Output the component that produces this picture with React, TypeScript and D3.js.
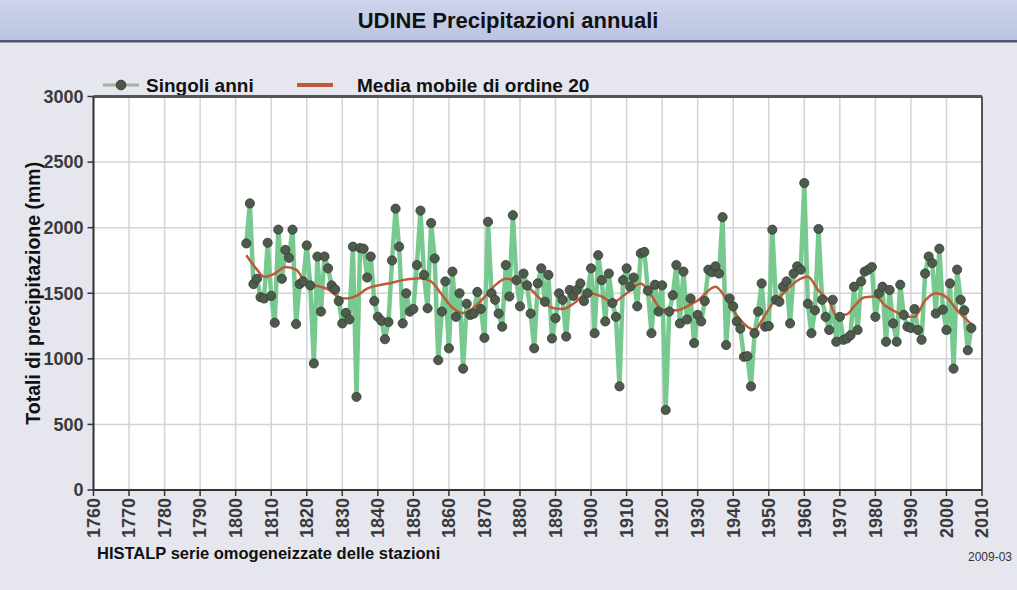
import React from "react";
import * as d3 from "d3";

const FIRST_YEAR = 1803;
const annualValues = [
  1880, 2185, 1570, 1610, 1470, 1460, 1885, 1480, 1275, 1985,
  1610, 1830, 1770, 1985, 1265, 1570, 1590, 1865, 1560, 965,
  1780, 1360, 1780, 1690, 1560, 1530, 1440, 1270, 1350, 1300,
  1855, 710, 1845, 1840, 1620, 1780, 1440, 1320, 1290, 1150,
  1280, 1750, 2145, 1855, 1270, 1500, 1360, 1380, 1715, 2130,
  1640, 1385, 2035, 1765, 990, 1360, 1590, 1080, 1665, 1320,
  1500, 925, 1420, 1335, 1345, 1510, 1380, 1160, 2045, 1500,
  1450, 1345, 1245, 1715, 1475, 2095, 1600, 1400, 1650, 1560,
  1345, 1080, 1575, 1690, 1435, 1640, 1155, 1310, 1500, 1450,
  1170, 1525, 1480, 1525, 1575, 1440, 1500, 1690, 1195, 1790,
  1600, 1285, 1650, 1425, 1320, 790, 1600, 1690, 1550, 1620,
  1400, 1805, 1815, 1520, 1195, 1565, 1360, 1560, 610, 1360,
  1485, 1715, 1270, 1665, 1300, 1460, 1120, 1335, 1285, 1440,
  1680, 1660, 1705, 1650, 2080, 1105, 1460, 1400, 1285, 1230,
  1015, 1020, 790, 1195, 1360, 1575, 1245, 1250, 1985, 1450,
  1435, 1550, 1590, 1270, 1650, 1705, 1680, 2340, 1420, 1195,
  1370, 1990, 1450, 1320, 1220, 1450, 1130, 1320, 1145, 1155,
  1180, 1550, 1220, 1590, 1665, 1680, 1700, 1320, 1500, 1550,
  1130, 1525, 1270, 1130, 1565, 1335, 1245, 1235, 1380, 1220,
  1145, 1650, 1780, 1730, 1345, 1840, 1375, 1220, 1575, 925,
  1680, 1450, 1370, 1065, 1235,
];

const maYears = [
  1803, 1806, 1808, 1811, 1814, 1817, 1820, 1823, 1826, 1829, 1831, 1834,
  1837, 1840, 1843, 1847, 1852, 1855, 1858, 1861, 1864, 1867, 1870, 1873,
  1876, 1879, 1883, 1886, 1889, 1892, 1895, 1899, 1903, 1906, 1910, 1914,
  1917, 1920, 1924, 1927, 1930, 1935, 1938, 1941, 1944, 1946, 1948, 1951,
  1954, 1958, 1961, 1964, 1967, 1969, 1972, 1974, 1977, 1980, 1983, 1986,
  1989, 1991, 1994, 1997, 2000, 2003, 2006, 2007,
];
const maValues = [
  1790, 1680, 1625, 1650, 1700, 1680, 1575, 1555, 1530, 1470, 1460, 1480,
  1535, 1560, 1575, 1600, 1615, 1590, 1490, 1390, 1350, 1390, 1470, 1560,
  1610, 1600, 1530, 1450, 1390, 1380, 1420, 1500, 1475, 1430, 1500, 1575,
  1480, 1375, 1370, 1400, 1445, 1550, 1460, 1330, 1245, 1220, 1290, 1420,
  1495, 1595, 1625, 1520, 1440, 1330, 1340, 1400, 1470, 1475, 1400, 1355,
  1320, 1320, 1445, 1500, 1470, 1370, 1290, 1265,
];

const xTicks = d3.range(1760, 2011, 10);
const yTicks = [0, 500, 1000, 1500, 2000, 2500, 3000];

const TITLE = "UDINE Precipitazioni annuali";
const LEGEND_ANNUAL = "Singoli anni";
const LEGEND_MA = "Media mobile di ordine 20";
const Y_TITLE = "Totali di precipitazione (mm)";
const FOOTER = "HISTALP serie omogeneizzate delle stazioni";
const STAMP = "2009-03";

const W = 1017;
const H = 590;
const FONT = "'Liberation Sans', Arial, sans-serif";

export default function App() {
  const x = d3.scaleLinear().domain([1760, 2010]).range([93.5, 982]);
  const y = d3.scaleLinear().domain([0, 3000]).range([490, 96.5]);

  const annual = annualValues.map((v, i) => ({ year: FIRST_YEAR + i, v }));
  const ma = maYears.map((yr, i) => ({ year: yr, v: maValues[i] }));

  const line = d3
    .line<{ year: number; v: number }>()
    .x((d) => x(d.year))
    .y((d) => y(d.v));
  const maLine = d3
    .line<{ year: number; v: number }>()
    .x((d) => x(d.year))
    .y((d) => y(d.v))
    .curve(d3.curveMonotoneX);

  const [x0, x1] = x.range();
  const [y0, y1] = y.range();

  return (
    <svg
      width={W}
      height={H}
      style={{ position: "absolute", left: 0, top: 0, display: "block" }}
      fontFamily={FONT}
    >
      <defs>
        <linearGradient id="titleGrad" x1="0" y1="0" x2="0" y2="1">
          <stop offset="0%" stopColor="#cdd3ec" />
          <stop offset="100%" stopColor="#bcc4e2" />
        </linearGradient>
      </defs>
      <rect x={0} y={0} width={W} height={H} fill="#e6e6ef" />
      <rect x={0} y={0} width={W} height={40} fill="url(#titleGrad)" />
      <rect x={0} y={40} width={W} height={2.5} fill="#4d5470" />
      <text
        x={508}
        y={28}
        textAnchor="middle"
        fontSize={22}
        fontWeight="bold"
        fill="#111"
      >
        {TITLE}
      </text>

      {/* legend */}
      <line x1={103} x2={139} y1={85} y2={85} stroke="#9cb59c" strokeWidth={3} />
      <circle cx={121} cy={85} r={4.8} fill="#4c584a" stroke="#333c33" strokeWidth={1} />
      <text x={146} y={92} fontSize={19} fontWeight="bold" fill="#111">
        {LEGEND_ANNUAL}
      </text>
      <line x1={297} x2={333} y1={85} y2={85} stroke="#c0583c" strokeWidth={4} />
      <text x={357} y={92} fontSize={19} fontWeight="bold" fill="#111">
        {LEGEND_MA}
      </text>

      {/* plot area */}
      <rect x={x0} y={y1} width={x1 - x0} height={y0 - y1} fill="#ffffff" />
      {xTicks.map((t) => (
        <line
          key={"gx" + t}
          x1={x(t)}
          x2={x(t)}
          y1={y1}
          y2={y0}
          stroke="#d2d4d8"
          strokeWidth={1.5}
        />
      ))}
      {yTicks.map((t) => (
        <line
          key={"gy" + t}
          x1={x0}
          x2={x1}
          y1={y(t)}
          y2={y(t)}
          stroke="#d2d4d8"
          strokeWidth={1.5}
        />
      ))}

      {/* series */}
      <path d={line(annual) || ""} fill="none" stroke="#78c990" strokeWidth={4.5} strokeLinejoin="round" />
      <path d={maLine(ma) || ""} fill="none" stroke="#c0583c" strokeWidth={2.5} />
      {annual.map((d) => (
        <circle
          key={"p" + d.year}
          cx={x(d.year)}
          cy={y(d.v)}
          r={4.6}
          fill="#4e5a4c"
          stroke="#343d34"
          strokeWidth={0.8}
        />
      ))}

      {/* frame */}
      <line x1={x0} x2={x1} y1={y1} y2={y1} stroke="#555" strokeWidth={3} />
      <line x1={x1} x2={x1} y1={y1} y2={y0} stroke="#555" strokeWidth={2} />
      <line x1={x0} x2={x0} y1={y1} y2={y0 + 1} stroke="#333" strokeWidth={2} />
      <line x1={x0} x2={x1} y1={y0} y2={y0} stroke="#333" strokeWidth={2} />

      {/* y axis */}
      {yTicks.map((t) => (
        <g key={"yt" + t}>
          <line x1={x0 - 6} x2={x0} y1={y(t)} y2={y(t)} stroke="#333" strokeWidth={1.5} />
          <text
            x={x0 - 10}
            y={y(t)}
            dy="0.35em"
            textAnchor="end"
            fontSize={18}
            fontWeight="bold"
            fill="#3a3a3a"
          >
            {t}
          </text>
        </g>
      ))}
      <text
        transform={`translate(40, ${(y0 + y1) / 2}) rotate(-90)`}
        textAnchor="middle"
        fontSize={19.5}
        fontWeight="bold"
        fill="#111"
      >
        {Y_TITLE}
      </text>

      {/* x axis */}
      {xTicks.map((t) => (
        <g key={"xt" + t}>
          <line x1={x(t)} x2={x(t)} y1={y0} y2={y0 + 6} stroke="#333" strokeWidth={1.5} />
          <text
            transform={`translate(${x(t)}, ${y0 + 8}) rotate(-90)`}
            dy="0.35em"
            textAnchor="end"
            fontSize={18}
            fontWeight="bold"
            fill="#3a3a3a"
          >
            {t}
          </text>
        </g>
      ))}

      <text x={97} y={559} fontSize={16.5} fontWeight="bold" fill="#111">
        {FOOTER}
      </text>
      <text x={968} y={561} fontSize={12} fill="#333">
        {STAMP}
      </text>
    </svg>
  );
}
